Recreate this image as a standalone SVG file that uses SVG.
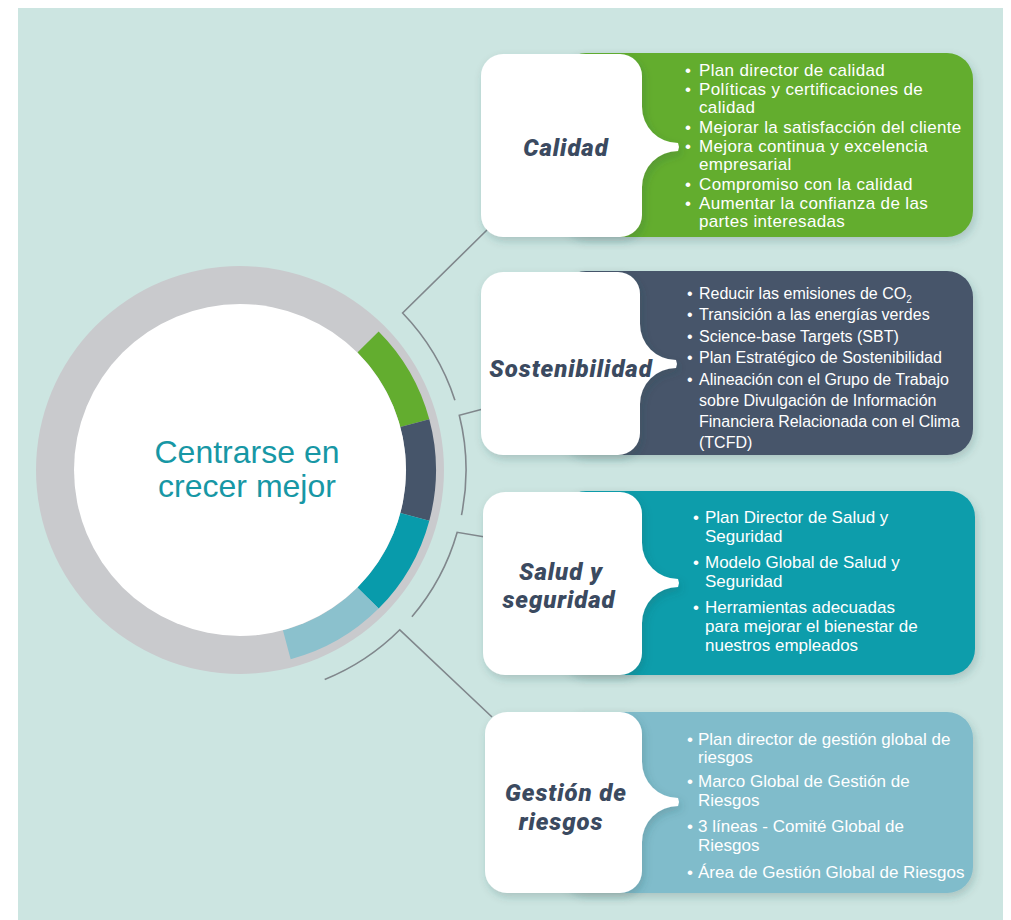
<svg xmlns="http://www.w3.org/2000/svg" width="1011" height="920" viewBox="0 0 1011 920">
<defs>
<filter id="sh" x="-10%" y="-10%" width="125%" height="130%">
<feDropShadow dx="2" dy="4" stdDeviation="4" flood-color="#2a4a48" flood-opacity="0.22"/>
</filter>
<style>
.bg{fill:#cce5e1}
.conn{fill:none;stroke:#80878c;stroke-width:1.6}
.seg{fill:none;stroke-width:30}
.white{fill:#ffffff}
.title{font-family:Roboto,"DejaVu Sans",sans-serif;font-weight:900;font-style:italic;font-size:24px;fill:#3b4a60;text-anchor:middle;letter-spacing:0.9px}
.center{font-family:"Liberation Sans",Arial,sans-serif;font-size:32px;fill:#1797a5;text-anchor:middle}
.li{font-family:"Liberation Sans",Arial,sans-serif;fill:#ffffff}
</style>
</defs>
<rect class="bg" x="18" y="8" width="985" height="912"/>

<g id="hub">
<circle cx="240" cy="470" r="204" fill="#c9cacd"/>
<path class="seg" stroke="#63ad2f" d="M368,342 A181 181 0 0 1 414.8,423.2"/>
<path class="seg" stroke="#46556a" d="M414.8,423.2 A181 181 0 0 1 414.8,516.8"/>
<path class="seg" stroke="#089bab" d="M414.8,516.8 A181 181 0 0 1 368,598"/>
<path class="seg" stroke="#8bc1cd" d="M368,598 A181 181 0 0 1 286.8,644.8"/>
<circle cx="240" cy="470" r="166" fill="#ffffff"/>
<text class="center" x="247" y="463">Centrarse en</text>
<text class="center" x="247" y="497">crecer mejor</text>
</g>

<g id="connectors">
<path class="conn" d="M488,229 L402.6,313 A226 226 0 0 1 454.9,400.2"/>
<path class="conn" d="M483,409 L459.3,415.3 A226 226 0 0 1 461.5,515.1"/>
<path class="conn" d="M485,537 L457.2,532.3 A226 226 0 0 1 411.9,616.8"/>
<path class="conn" d="M492,717 L399.8,629.8 A226 226 0 0 1 324.7,679.5"/>
</g>

<g id="calidad">
<rect x="560" y="53" width="413" height="184" rx="26" fill="#63ad2f" filter="url(#sh)"/>
<path class="white" filter="url(#sh)" d="M503,54 H620 A22 22 0 0 1 642,76 V107 A36 36 0 0 0 678,143 L679,147 L678,151 A36 36 0 0 0 642,187 V215 A22 22 0 0 1 620,237 H503 A22 22 0 0 1 481,215 V76 A22 22 0 0 1 503,54 Z"/>
<text class="title" x="566" y="156">Calidad</text>
<g class="li" font-size="17" letter-spacing="0.35">
<text x="685" y="76">•</text><text x="699" y="76">Plan director de calidad</text>
<text x="685" y="95">•</text><text x="699" y="95">Políticas y certificaciones de</text>
<text x="699" y="113">calidad</text>
<text x="685" y="133">•</text><text x="699" y="133">Mejorar la satisfacción del cliente</text>
<text x="685" y="152">•</text><text x="699" y="152">Mejora continua y excelencia</text>
<text x="699" y="170">empresarial</text>
<text x="685" y="190">•</text><text x="699" y="190">Compromiso con la calidad</text>
<text x="685" y="209">•</text><text x="699" y="209">Aumentar la confianza de las</text>
<text x="699" y="227">partes interesadas</text>
</g>
</g>

<g id="sostenibilidad">
<rect x="560" y="271" width="413" height="184" rx="26" fill="#46556a" filter="url(#sh)"/>
<path class="white" filter="url(#sh)" d="M503,272 H618 A22 22 0 0 1 640,294 V324 A36 36 0 0 0 676,360 L677,364 L676,368 A36 36 0 0 0 640,404 V433 A22 22 0 0 1 618,455 H503 A22 22 0 0 1 481,433 V294 A22 22 0 0 1 503,272 Z"/>
<text class="title" x="571" y="377">Sostenibilidad</text>
<g class="li" font-size="16">
<text x="687" y="299">•</text><text x="699" y="299">Reducir las emisiones de CO<tspan font-size="10" dy="4">2</tspan></text>
<text x="687" y="320">•</text><text x="699" y="320">Transición a las energías verdes</text>
<text x="687" y="342">•</text><text x="699" y="342">Science-base Targets (SBT)</text>
<text x="687" y="363">•</text><text x="699" y="363">Plan Estratégico de Sostenibilidad</text>
<text x="687" y="385">•</text><text x="699" y="385">Alineación con el Grupo de Trabajo</text>
<text x="699" y="406">sobre Divulgación de Información</text>
<text x="699" y="427">Financiera Relacionada con el Clima</text>
<text x="699" y="448">(TCFD)</text>
</g>
</g>

<g id="salud">
<rect x="560" y="491" width="415" height="184" rx="26" fill="#0a9dab" filter="url(#sh)"/>
<path class="white" filter="url(#sh)" d="M505,492 H620 A22 22 0 0 1 642,514 V543 A36 36 0 0 0 678,579 L679,583 L678,587 A36 36 0 0 0 642,623 V653 A22 22 0 0 1 620,675 H505 A22 22 0 0 1 483,653 V514 A22 22 0 0 1 505,492 Z"/>
<text class="title" x="561" y="580">Salud y</text>
<text class="title" x="559" y="608">seguridad</text>
<g class="li" font-size="17">
<text x="693" y="523">•</text><text x="705" y="523">Plan Director de Salud y</text>
<text x="705" y="542">Seguridad</text>
<text x="693" y="568">•</text><text x="705" y="568">Modelo Global de Salud y</text>
<text x="705" y="587">Seguridad</text>
<text x="693" y="613">•</text><text x="705" y="613">Herramientas adecuadas</text>
<text x="705" y="632">para mejorar el bienestar de</text>
<text x="705" y="651">nuestros empleados</text>
</g>
</g>

<g id="gestion">
<rect x="560" y="712" width="413" height="181" rx="26" fill="#80bccb" filter="url(#sh)"/>
<path class="white" filter="url(#sh)" d="M507,712 H620 A22 22 0 0 1 642,734 V762 A36 36 0 0 0 678,798 L679,802 L678,806 A36 36 0 0 0 642,842 V871 A22 22 0 0 1 620,893 H507 A22 22 0 0 1 485,871 V734 A22 22 0 0 1 507,712 Z"/>
<text class="title" x="566" y="801">Gestión de</text>
<text class="title" x="561" y="830">riesgos</text>
<g class="li" font-size="17">
<text x="687" y="745">•</text><text x="698" y="745">Plan director de gestión global de</text>
<text x="698" y="763">riesgos</text>
<text x="687" y="787">•</text><text x="698" y="787">Marco Global de Gestión de</text>
<text x="698" y="806">Riesgos</text>
<text x="687" y="832">•</text><text x="698" y="832">3 líneas - Comité Global de</text>
<text x="698" y="851">Riesgos</text>
<text x="687" y="878">•</text><text x="698" y="878">Área de Gestión Global de Riesgos</text>
</g>
</g>
</svg>
